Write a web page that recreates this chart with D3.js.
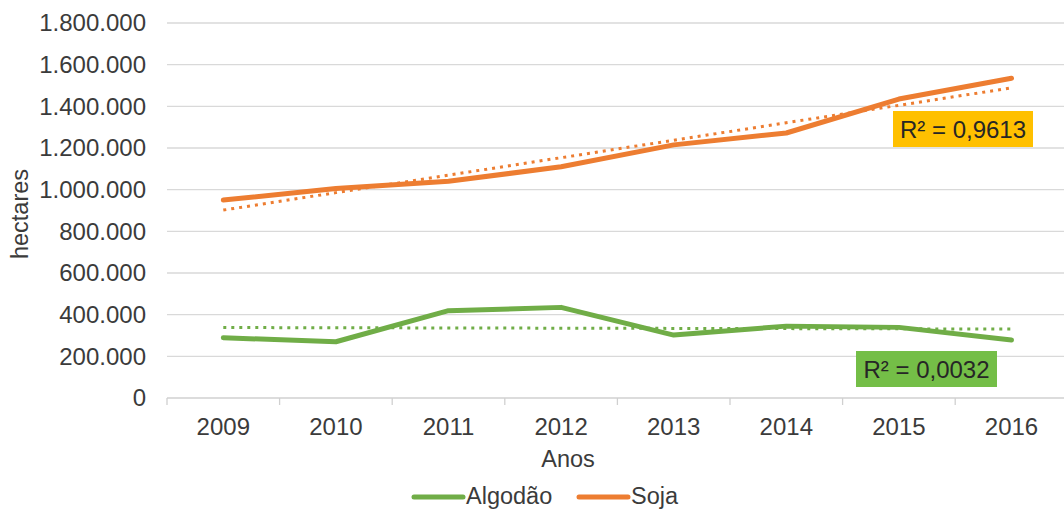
<!DOCTYPE html>
<html>
<head>
<meta charset="utf-8">
<script src="https://cdn.jsdelivr.net/npm/d3@7"></script>
<style>
  html, body { margin: 0; padding: 0; background: #fff; }
  svg { display: block; font-family: "Liberation Sans", Arial, sans-serif; }
</style>
</head>
<body>
<svg id="chart" width="1064" height="510"></svg>
<script>
// Planted area (hectares) per year
const years = ["2009", "2010", "2011", "2012", "2013", "2014", "2015", "2016"];
const algodao = [289000, 270000, 419000, 435000, 302000, 345000, 339000, 278000];
const soja = [950000, 1006000, 1040000, 1110000, 1215000, 1272000, 1435000, 1535000];
const yTicks = [0, 200000, 400000, 600000, 800000, 1000000, 1200000, 1400000, 1600000, 1800000];
const r2Labels = { algodao: "R² = 0,0032", soja: "R² = 0,9613" };

(function () {
const colors = { algodao: "#70AD47", soja: "#ED7D31", sojaBox: "#FFC000", algodaoBox: "#74BE47" };
const textColor = "#3b3b3b";
const fontSize = 24;

const svg = d3.select("#chart");
const plotLeft = 167, plotTop = 23, plotBottom = 398;
const band = 112.6;

const x = d3.scaleBand().domain(years).range([plotLeft, plotLeft + band * years.length]).padding(0);
const y = d3.scaleLinear().domain([0, 1800000]).range([plotBottom, plotTop]);

const pt = d3.formatLocale({ decimal: ",", thousands: ".", grouping: [3], currency: ["", ""] });
const fmt = pt.format(",");

// Horizontal gridlines
svg.append("g")
  .selectAll("line")
  .data(yTicks.filter(d => d > 0))
  .join("line")
  .attr("x1", plotLeft).attr("x2", 1064)
  .attr("y1", d => y(d)).attr("y2", d => y(d))
  .attr("stroke", "#d9d9d9").attr("stroke-width", 1.3);

// Y axis labels
const yAxis = d3.axisLeft(y).tickValues(yTicks).tickFormat(fmt).tickSize(0).tickPadding(21);
const gy = svg.append("g").attr("transform", `translate(${plotLeft},0)`).call(yAxis);
gy.select(".domain").remove();
gy.selectAll("text").attr("font-size", fontSize).attr("fill", textColor)
  .attr("font-family", "Liberation Sans, Arial, sans-serif");

// X axis: baseline, category separators and labels
svg.append("line")
  .attr("x1", plotLeft).attr("x2", 1064)
  .attr("y1", plotBottom).attr("y2", plotBottom)
  .attr("stroke", "#d0d0d0").attr("stroke-width", 1.3);
svg.append("g")
  .selectAll("line")
  .data(years.map(d => x(d)).concat([x(years[years.length - 1]) + x.bandwidth()]))
  .join("line")
  .attr("x1", d => d).attr("x2", d => d)
  .attr("y1", plotBottom).attr("y2", plotBottom + 7)
  .attr("stroke", "#d0d0d0").attr("stroke-width", 1.3);
const xAxis = d3.axisBottom(x).tickSize(0).tickPadding(20);
const gx = svg.append("g").attr("transform", `translate(0,${plotBottom})`).call(xAxis);
gx.select(".domain").remove();
gx.selectAll("text").attr("font-size", fontSize).attr("fill", textColor)
  .attr("font-family", "Liberation Sans, Arial, sans-serif");

// Axis titles
svg.append("text")
  .attr("transform", `translate(28,214) rotate(-90)`)
  .attr("text-anchor", "middle").attr("font-size", 23.5).attr("fill", textColor)
  .text("hectares");
svg.append("text")
  .attr("x", 568).attr("y", 467)
  .attr("text-anchor", "middle").attr("font-size", 23.5).attr("fill", textColor)
  .text("Anos");

// Least-squares linear trend over the year index
function trend(values) {
  const n = values.length;
  const xs = d3.range(n);
  const mx = d3.mean(xs), my = d3.mean(values);
  const sxy = d3.sum(xs, i => (i - mx) * (values[i] - my));
  const sxx = d3.sum(xs, i => (i - mx) * (i - mx));
  const b = sxy / sxx, a = my - b * mx;
  return xs.map(i => a + b * i);
}

const cx = d => x(d) + x.bandwidth() / 2;
const line = d3.line().x((d, i) => cx(years[i])).y(d => y(d));

const series = [
  { key: "algodao", values: algodao },
  { key: "soja", values: soja }
];

// Dotted trend lines
series.forEach(s => {
  svg.append("path")
    .attr("d", line(trend(s.values)))
    .attr("fill", "none")
    .attr("stroke", colors[s.key])
    .attr("stroke-width", 3)
    .attr("stroke-dasharray", "3 5");
});

// Data lines
series.forEach(s => {
  svg.append("path")
    .attr("d", line(s.values))
    .attr("fill", "none")
    .attr("stroke", colors[s.key])
    .attr("stroke-width", 5)
    .attr("stroke-linejoin", "round")
    .attr("stroke-linecap", "round");
});

// R² labels
const boxes = [
  { text: r2Labels.soja, fill: colors.sojaBox, x: 893, y: 111, w: 140, h: 36 },
  { text: r2Labels.algodao, fill: colors.algodaoBox, x: 856, y: 351, w: 141, h: 36 }
];
boxes.forEach(b => {
  svg.append("rect").attr("x", b.x).attr("y", b.y).attr("width", b.w).attr("height", b.h)
    .attr("fill", b.fill);
  svg.append("text").attr("x", b.x + b.w / 2).attr("y", b.y + b.h / 2 + 8.5)
    .attr("text-anchor", "middle").attr("font-size", fontSize).attr("fill", "#262626")
    .text(b.text);
});

// Legend
const legend = [
  { label: "Algodão", color: colors.algodao, x1: 414, x2: 463 },
  { label: "Soja", color: colors.soja, x1: 579, x2: 628 }
];
legend.forEach(l => {
  svg.append("line").attr("x1", l.x1).attr("x2", l.x2).attr("y1", 497).attr("y2", 497)
    .attr("stroke", l.color).attr("stroke-width", 5).attr("stroke-linecap", "round");
  svg.append("text").attr("x", l.x2 + 3).attr("y", 504)
    .attr("font-size", 23.5).attr("fill", textColor).text(l.label);
});
})();
</script>
</body>
</html>
